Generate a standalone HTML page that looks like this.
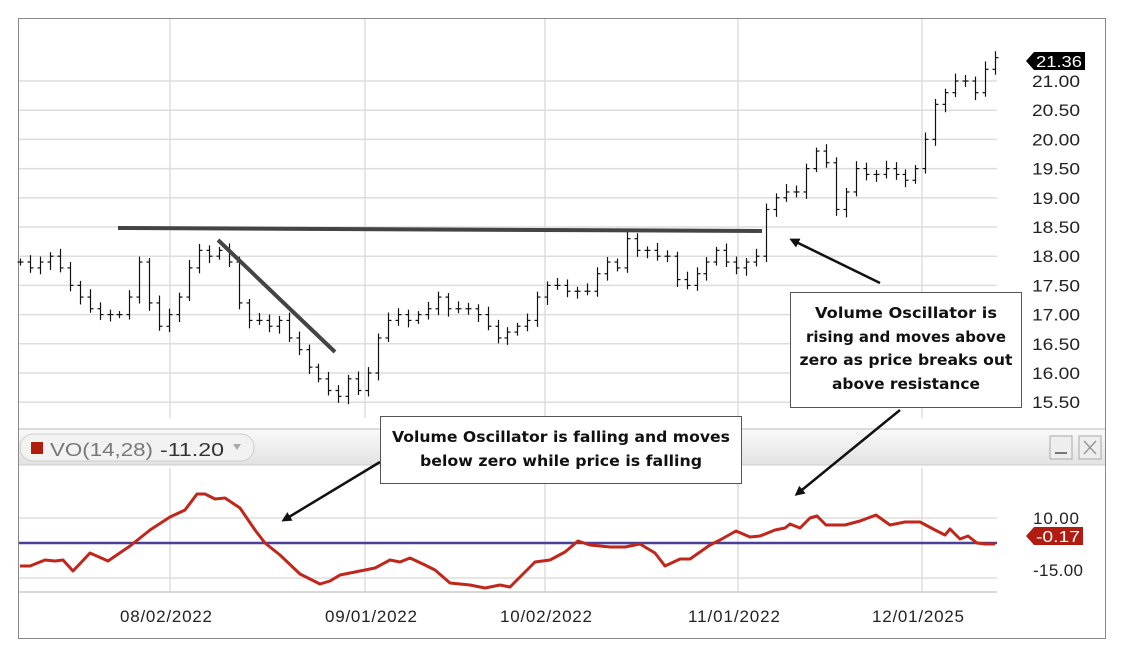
<!DOCTYPE html>
<html><head><meta charset="utf-8"><style>
body{margin:0;background:#fff;width:1124px;height:653px;overflow:hidden;font-family:"Liberation Sans",sans-serif}
svg{position:absolute;left:0;top:0}
</style></head><body>
<svg id="s" width="1124" height="653" xmlns="http://www.w3.org/2000/svg" font-family="Liberation Sans, sans-serif">
<rect x="18.5" y="18.5" width="1087" height="620" fill="#fff" stroke="#888"/>
<defs><linearGradient id="g" x1="0" y1="0" x2="0" y2="1"><stop offset="0" stop-color="#fafafa"/><stop offset="1" stop-color="#e2e2e2"/></linearGradient>
<marker id="ah" markerWidth="10" markerHeight="10" refX="7" refY="5" orient="auto" markerUnits="userSpaceOnUse"><path d="M0,0 L10,5 L0,10 z" fill="#111"/></marker></defs>
<g id="grid" stroke="#ddd" stroke-width="1.5"></g>
<g id="bars" stroke="#111" stroke-width="1.2"></g>
<rect x="19" y="429" width="1086" height="36" fill="url(#g)"/>
<line x1="19" y1="429" x2="1105" y2="429" stroke="#bbb"/>
<line x1="19" y1="465" x2="1105" y2="465" stroke="#ccc"/>
<rect x="20" y="434" width="234" height="27" rx="13" fill="#f2f2f2" stroke="#ccc"/>
<rect x="31" y="442" width="12" height="12" fill="#b01c10"/>
<text x="50" y="456" font-size="18" fill="#777" textLength="103" lengthAdjust="spacingAndGlyphs">VO(14,28)</text>
<text x="160" y="456" font-size="18" fill="#333" textLength="64" lengthAdjust="spacingAndGlyphs">-11.20</text>
<path d="M233,444 l8,0 l-4,6 z" fill="#aaa"/>
<rect x="1050" y="436" width="22" height="23" fill="#eee" stroke="#aaa"/>
<line x1="1055" y1="453" x2="1067" y2="453" stroke="#777" stroke-width="2"/>
<rect x="1079" y="436" width="22" height="23" fill="#eee" stroke="#aaa"/>
<path d="M1084,441 l12,13 M1096,441 l-12,13" stroke="#999" stroke-width="1.5"/>
<g stroke="#ddd" stroke-width="1.5">
<line x1="19" y1="518" x2="997" y2="518"/><line x1="19" y1="578" x2="997" y2="578"/>
<line x1="170" y1="468" x2="170" y2="592"/><line x1="365" y1="468" x2="365" y2="592"/><line x1="545" y1="468" x2="545" y2="592"/><line x1="738" y1="468" x2="738" y2="592"/><line x1="922" y1="468" x2="922" y2="592"/>
</g>
<line x1="19" y1="592" x2="997" y2="592" stroke="#ccc" stroke-width="1.5"/>
<line x1="19" y1="543" x2="997" y2="543" stroke="#4a3f9a" stroke-width="2.5"/>
<polyline fill="none" stroke="#c0261a" stroke-width="3" stroke-linejoin="round" points="20,566 30,566 45,560 55,561 63,560 73,571 90,553 108,561 130,546 150,530 170,517 185,510 197,494 205,494 215,499 225,498 240,508 255,530 265,543 280,555 300,574 320,584 330,581 340,575 355,572 365,570 375,568 390,560 400,562 410,558 425,565 435,570 450,583 470,585 485,588 500,585 510,587 520,577 535,562 550,560 565,552 578,541 590,545 610,547 625,547 640,544 655,553 665,566 680,559 690,559 700,552 710,545 720,540 736,531 750,537 760,536 775,530 785,528 790,524 800,528 810,518 817,516 826,525 845,525 860,521 876,515 890,525 905,522 920,522 935,530 945,535 950,529 960,539 968,536 977,543 985,544 995,544"/>
<g font-size="17" fill="#222" lengthAdjust="spacingAndGlyphs">
<text x="1033" y="524" textLength="46">10.00</text><text x="1033" y="576" textLength="50">-15.00</text>
<text x="120" y="622" textLength="92">08/02/2022</text><text x="325" y="622" textLength="92">09/01/2022</text><text x="500" y="622" textLength="92">10/02/2022</text><text x="688" y="622" textLength="92">11/01/2022</text><text x="872" y="622" textLength="92">12/01/2025</text>
</g>
<path d="M1026,536 l8,-9 h49 v18 h-49 z" fill="#b01c10"/>
<text x="1036" y="542" font-size="16" fill="#fff" textLength="44" lengthAdjust="spacingAndGlyphs">-0.17</text>
<g id="ylab" font-size="17" fill="#222"></g>
<path d="M1026,61 l8,-9 h51 v18 h-51 z" fill="#000"/>
<text x="1036" y="67" font-size="16" fill="#fff" textLength="46" lengthAdjust="spacingAndGlyphs">21.36</text>
<line x1="118" y1="228" x2="762" y2="231" stroke="#444" stroke-width="4"/>
<line x1="218" y1="240" x2="335" y2="352" stroke="#444" stroke-width="4"/>
<line x1="380" y1="462" x2="284" y2="520" stroke="#111" stroke-width="2.5" marker-end="url(#ah)"/>
<line x1="880" y1="283" x2="792" y2="240" stroke="#111" stroke-width="2.5" marker-end="url(#ah)"/>
<line x1="900" y1="410" x2="797" y2="494" stroke="#111" stroke-width="2.5" marker-end="url(#ah)"/>
<rect x="380.5" y="416.5" width="361" height="67" fill="#fff" stroke="#555"/>
<g font-family="DejaVu Sans, sans-serif" font-size="15" font-weight="bold" text-anchor="middle" fill="#111">
<text x="561" y="442" textLength="338" lengthAdjust="spacingAndGlyphs">Volume Oscillator is falling and moves</text>
<text x="561" y="466" textLength="282" lengthAdjust="spacingAndGlyphs">below zero while price is falling</text>
</g>
<rect x="790.5" y="292.5" width="231" height="115" fill="#fff" stroke="#555"/>
<g font-family="DejaVu Sans, sans-serif" font-size="15" font-weight="bold" text-anchor="middle" fill="#111">
<text x="906" y="318" textLength="182" lengthAdjust="spacingAndGlyphs">Volume Oscillator is</text>
<text x="906" y="342" textLength="200" lengthAdjust="spacingAndGlyphs">rising and moves above</text>
<text x="906" y="365" textLength="213" lengthAdjust="spacingAndGlyphs">zero as price breaks out</text>
<text x="906" y="389" textLength="148" lengthAdjust="spacingAndGlyphs">above resistance</text>
</g>
</svg>
<script>
var ns="http://www.w3.org/2000/svg";
function el(p,t,a){var e=document.createElementNS(ns,t);for(var k in a)e.setAttribute(k,a[k]);document.getElementById(p).appendChild(e);return e;}
function Y(p){return 81+(21-p)*58.4;}
var labs=["21.00","20.50","20.00","19.50","19.00","18.50","18.00","17.50","17.00","16.50","16.00","15.50"];
for(var i=0;i<labs.length;i++){var y=Y(parseFloat(labs[i]));el("grid","line",{x1:19,x2:997,y1:y,y2:y});var t=el("ylab","text",{x:1032,y:y+6,textLength:48,lengthAdjust:"spacingAndGlyphs"});t.textContent=labs[i];}
[170,365,545,738,922].forEach(function(x){el("grid","line",{x1:x,x2:x,y1:19,y2:418});});
var c=[17.9,17.8,17.9,18.0,17.8,17.5,17.3,17.1,17.0,17.0,17.0,17.3,17.9,17.2,16.8,17.0,17.3,17.8,18.1,18.0,18.1,17.9,17.2,16.9,16.9,16.8,16.9,16.6,16.4,16.1,15.9,15.7,15.6,15.9,15.7,16.0,16.6,16.9,17.0,16.9,17.0,17.1,17.3,17.1,17.1,17.1,17.0,16.8,16.6,16.7,16.8,16.9,17.3,17.5,17.5,17.4,17.4,17.4,17.7,17.9,17.8,18.3,18.1,18.1,18.0,18.0,17.6,17.5,17.7,17.9,18.1,17.9,17.8,17.9,18.0,18.8,19.0,19.1,19.1,19.5,19.8,19.6,18.8,19.1,19.5,19.4,19.4,19.5,19.4,19.3,19.5,20.0,20.6,20.8,21.0,21.0,20.8,21.2,21.4];
var n=c.length,prev=c[0];
for(var i=0;i<n;i++){var x=20+i*(975/(n-1));var o=prev,cl=c[i];var hi=Math.max(o,cl)+0.06+((i*37)%10)/120,lo=Math.min(o,cl)-0.06-((i*53)%10)/120;
x=Math.round(x)+0.5;el("bars","line",{x1:x,x2:x,y1:Y(hi),y2:Y(lo)});
el("bars","line",{x1:x-3,x2:x,y1:Y(o),y2:Y(o)});el("bars","line",{x1:x,x2:x+3,y1:Y(cl),y2:Y(cl)});prev=cl;}
</script>
</body></html>
